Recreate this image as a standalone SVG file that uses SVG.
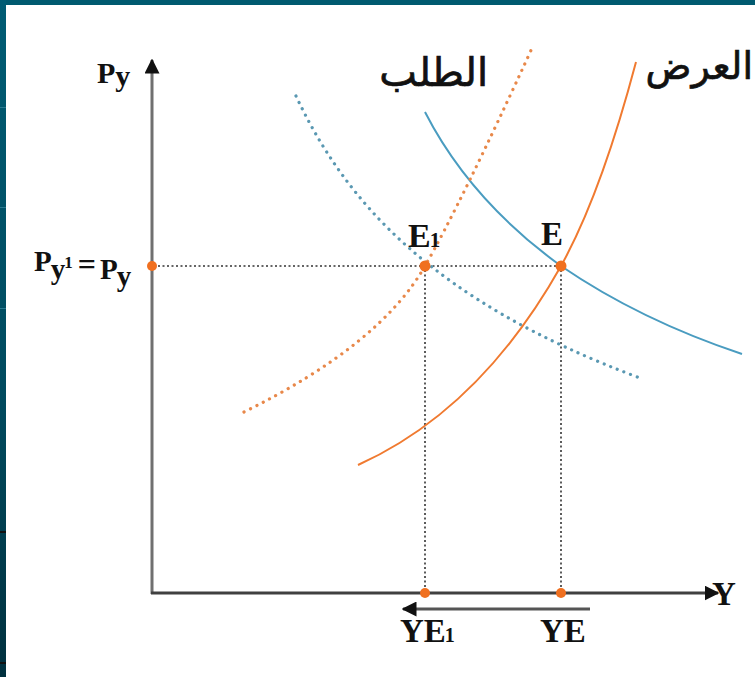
<svg xmlns="http://www.w3.org/2000/svg" width="755" height="677" viewBox="0 0 755 677">
<defs>
<linearGradient id="band" x1="0" y1="0" x2="0" y2="1">
<stop offset="0" stop-color="#005c74"/>
<stop offset="0.6" stop-color="#004a5e"/>
<stop offset="1" stop-color="#00303e"/>
</linearGradient>
<marker id="ah" viewBox="0 0 10 10" refX="9" refY="5" markerWidth="5" markerHeight="5" orient="auto" markerUnits="strokeWidth">
<path d="M0,0 L10,5 L0,10 z" fill="#111"/>
</marker>
</defs>
<style>
.lbl{font-family:"Liberation Serif","Times New Roman",serif;font-weight:bold;fill:#111}
.ar{font-family:"DejaVu Sans",sans-serif;fill:#111;stroke:#111;stroke-width:0.7}
.guide{fill:none;stroke:#333;stroke-width:1.6;stroke-dasharray:2 2.5}
.blue{fill:none;stroke:#4a9cc0;stroke-width:2}
.orange{fill:none;stroke:#f07a30;stroke-width:2}
.bluedot{fill:none;stroke:#5a98b2;stroke-width:3.2;stroke-dasharray:0.1 7;stroke-linecap:round}
.orangedot{fill:none;stroke:#e8884a;stroke-width:3.2;stroke-dasharray:0.1 7;stroke-linecap:round}
.pt{fill:#f07020}
</style>
<rect x="0" y="0" width="755" height="677" fill="#ffffff"/>
<rect x="0" y="0" width="755" height="5" fill="#005a70"/>
<rect x="0" y="0" width="6" height="677" fill="url(#band)"/>
<rect x="0" y="107" width="6" height="1" fill="#2a7a90"/>
<rect x="0" y="207" width="6" height="1" fill="#2a7a90"/>
<rect x="0" y="308" width="6" height="1" fill="#2a7a90"/>
<rect x="0" y="531" width="6" height="2" fill="#111"/>
<rect x="0" y="662" width="6" height="2" fill="#111"/>

<g id="connectors">
<line x1="152" y1="594" x2="152" y2="60" stroke="#707070" stroke-width="3" marker-end="url(#ah)"/>
<line x1="151" y1="593" x2="718" y2="593" stroke="#404040" stroke-width="3" marker-end="url(#ah)"/>
<line class="guide" x1="158" y1="266" x2="561" y2="266"/>
<line class="guide" x1="425" y1="270" x2="425" y2="590"/>
<line class="guide" x1="561" y1="270" x2="561" y2="590"/>
<line x1="590" y1="609" x2="403" y2="609" stroke="#555" stroke-width="3" marker-end="url(#ah)"/>
</g>

<g id="curve-D1">
<path class="bluedot" d="M296,96 C345,200 430,300 640,378"/>
</g>
<g id="curve-D">
<path class="blue" d="M425,112 Q470,200 561,266 Q640,320 742,354"/>
</g>
<g id="curve-S1">
<path class="orangedot" d="M244,412 Q380,345 425,266 Q461,203 533,46"/>
</g>
<g id="curve-S">
<path class="orange" d="M358,465 Q480,410 561,266 Q601,194 636,62"/>
</g>

<g id="points">
<circle class="pt" cx="152" cy="266" r="5"/>
<circle class="pt" cx="425" cy="266" r="5.5"/>
<circle class="pt" cx="561" cy="266" r="5.5"/>
<circle class="pt" cx="425" cy="593" r="5"/>
<circle class="pt" cx="561" cy="593" r="5"/>
</g>

<g id="label-Py">
<text class="lbl" x="97" y="83" font-size="30">P<tspan dy="3">y</tspan></text>
</g>
<g id="label-Py1">
<text class="lbl" x="34" y="271" font-size="29">P<tspan dx="-1" dy="8">y</tspan><tspan dx="-1" dy="-11" font-size="17">1</tspan><tspan dx="5" dy="7" font-size="32">=</tspan><tspan dx="4" dy="4">P</tspan><tspan dx="-1" dy="7">y</tspan></text>
</g>
<g id="label-E1">
<text class="lbl" x="408" y="247" font-size="34">E<tspan dx="-1" font-size="21">1</tspan></text>
</g>
<g id="label-E">
<text class="lbl" x="541" y="245" font-size="33">E</text>
</g>
<g id="label-YE1">
<text class="lbl" x="400" y="642" font-size="33">YE<tspan dx="-1" font-size="20">1</tspan></text>
</g>
<g id="label-YE">
<text class="lbl" x="540" y="642" font-size="33">YE</text>
</g>
<g id="label-Y">
<text class="lbl" x="712" y="605" font-size="33">Y</text>
</g>
<g id="label-demand">
<text class="ar" x="488" y="86" font-size="40" text-anchor="end">الطلب</text>
</g>
<g id="label-supply">
<text class="ar" x="753" y="79" font-size="38" text-anchor="end">العرض</text>
</g>
</svg>
